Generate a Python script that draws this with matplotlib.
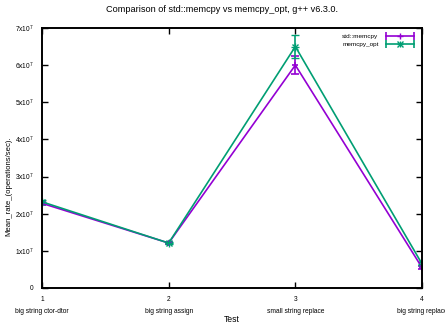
import matplotlib

matplotlib.use("Agg")
import matplotlib.pyplot as plt
from matplotlib.lines import Line2D
from matplotlib.legend_handler import HandlerLine2D, HandlerTuple

plt.rcParams["font.family"] = ["Liberation Sans", "DejaVu Sans"]
plt.rcParams["mathtext.default"] = "regular"

tests = [1, 2, 3, 4]
test_names = ["big string ctor-dtor", "big string assign",
              "small string replace", "big string replace"]

std_rate = [2.28e7, 1.21e7, 6.00e7, 0.55e7]
std_err = [0.04e7, 0.03e7, 0.24e7, 0.05e7]
opt_rate = [2.32e7, 1.21e7, 6.50e7, 0.65e7]
opt_err = [0.06e7, 0.03e7, 0.32e7, 0.04e7]

PURPLE = "#9400d3"
GREEN = "#009e73"

fig = plt.figure(figsize=(4.45, 3.25), dpi=100)
ax = fig.add_axes([42 / 445, 37 / 325, 380 / 445, 260 / 325])

ax.errorbar(tests, std_rate, yerr=std_err, color=PURPLE, lw=1.2,
            marker="+", ms=5, mew=1.2, capsize=3, capthick=1.2)
ax.errorbar(tests, opt_rate, yerr=opt_err, color=GREEN, lw=1.2,
            marker="+", ms=5.5, mew=1.0, capsize=3, capthick=1.2)
# second half of the gnuplot asterisk
ax.plot(tests, opt_rate, ls="none", color=GREEN, marker="x", ms=4,
        mew=1.0)

ax.set_xlim(1, 4)
ax.set_ylim(0, 7e7)
ax.set_xticks(tests)
ax.set_xticklabels([f"{i}\n{n}" for i, n in zip(tests, test_names)],
                   fontsize=4.8, linespacing=1.9)
yt = [i * 1e7 for i in range(8)]
ax.set_yticks(yt)
ax.set_yticklabels(["0"] + [f"{i}x10$^{{7}}$" for i in range(1, 8)],
                   fontsize=4.8)
ax.tick_params(direction="in", length=4, width=1, top=True, right=True,
               pad=6)
for s in ax.spines.values():
    s.set_linewidth(1.4)

ax.set_xlabel("Test", fontsize=6.2, labelpad=0)
ax.set_ylabel("Mean_rate_(operations/sec).", fontsize=5.6)
ax.yaxis.set_label_coords(-0.079, 0.39)
fig.suptitle("Comparison of std::memcpy vs memcpy_opt, g++ v6.3.0.",
             fontsize=6.6, y=0.985)

# gnuplot-style legend keys: horizontal bar with caps and centre marker
handles = []
hmap = {}
for col, mks in [(PURPLE, ["+"]), (GREEN, ["+", "x"])]:
    caps = Line2D([], [], color=col, lw=1.2, marker="|", ms=6, mew=1.2)
    hmap[caps] = HandlerLine2D(numpoints=2)
    parts = [caps]
    for mk in mks:
        mid = Line2D([], [], color=col, lw=0, marker=mk,
                     ms=5 if mk == "+" else 4, mew=1.0)
        hmap[mid] = HandlerLine2D(numpoints=1)
        parts.append(mid)
    handles.append(tuple(parts))
hmap[tuple] = HandlerTuple(ndivide=1)
ax.legend(handles, ["std::memcpy", "memcpy_opt"], handler_map=hmap,
          loc="upper right", frameon=False, fontsize=4.6, markerfirst=False,
          handlelength=5.0, handletextpad=0.9, borderaxespad=0.5,
          labelspacing=0.35)

fig.savefig("out.png", dpi=100)
